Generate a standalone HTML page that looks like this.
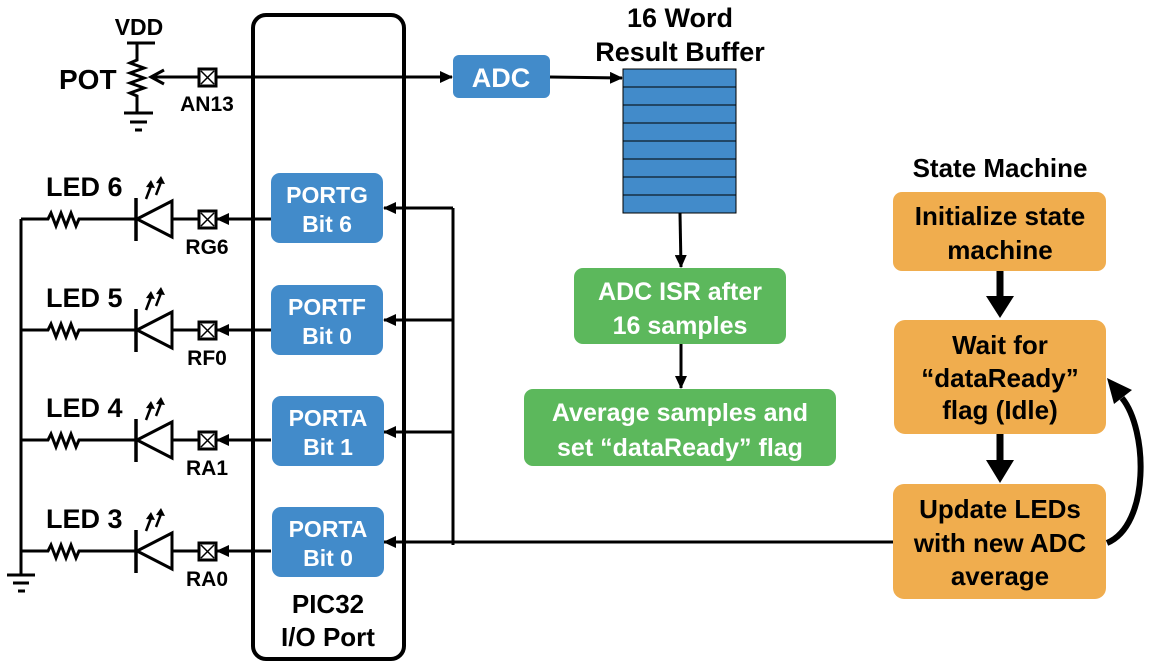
<!DOCTYPE html>
<html><head><style>
body{margin:0;background:#fff;width:1150px;height:665px;overflow:hidden}
text{font-family:"Liberation Sans",Arial,Helvetica,sans-serif;font-weight:bold}
</style></head><body>
<svg width="1150" height="665" viewBox="0 0 1150 665" xmlns="http://www.w3.org/2000/svg">
<defs>
<marker id="a" markerWidth="13" markerHeight="12" refX="12" refY="6" orient="auto" markerUnits="userSpaceOnUse"><path d="M0,0 L13,6 L0,12 z" fill="#000"/></marker>
</defs>
<!-- PIC32 box -->
<rect x="253" y="15" width="151" height="644" rx="13" fill="none" stroke="#000" stroke-width="4"/>
<text x="328" y="613" font-size="26" text-anchor="middle">PIC32</text>
<text x="328" y="646" font-size="26" text-anchor="middle">I/O Port</text>

<!-- POT -->
<text x="139" y="35" font-size="23" text-anchor="middle">VDD</text>
<line x1="127" y1="43" x2="155" y2="43" stroke="#000" stroke-width="3"/>
<polyline points="137,43 137,60 130,63 144,68 130,73 144,78 130,83 144,88 130,93 137,96 137,113" fill="none" stroke="#000" stroke-width="3"/>
<line x1="124" y1="113" x2="153" y2="113" stroke="#000" stroke-width="3"/>
<line x1="130" y1="122" x2="147" y2="122" stroke="#000" stroke-width="3"/>
<line x1="135" y1="130" x2="142" y2="130" stroke="#000" stroke-width="3"/>
<polyline points="164,70 151,77 164,84" fill="none" stroke="#000" stroke-width="3"/>
<text x="59" y="89" font-size="28">POT</text>
<line x1="152" y1="77" x2="452" y2="77" stroke="#000" stroke-width="3" marker-end="url(#a)"/>
<rect x="199" y="69" width="17" height="17" fill="#fff" stroke="#000" stroke-width="3"/>
<path d="M201,71 L214,84 M214,71 L201,84" stroke="#000" stroke-width="1.5"/>
<text x="207" y="111" font-size="21" text-anchor="middle">AN13</text>

<!-- ADC -->
<rect x="453" y="55" width="97" height="43" rx="6" fill="#428BCA"/>
<text x="501" y="87" font-size="27" fill="#fff" text-anchor="middle">ADC</text>
<line x1="550" y1="77" x2="622" y2="78" stroke="#000" stroke-width="3" marker-end="url(#a)"/>

<!-- buffer -->
<text x="680" y="27" font-size="27" text-anchor="middle">16 Word</text>
<text x="680" y="61" font-size="27" text-anchor="middle">Result Buffer</text>
<rect x="623" y="69" width="113" height="144" fill="#428BCA" stroke="#000" stroke-width="1"/>
<g stroke="#000" stroke-width="1">
<line x1="623" y1="87" x2="736" y2="87"/><line x1="623" y1="105" x2="736" y2="105"/>
<line x1="623" y1="123" x2="736" y2="123"/><line x1="623" y1="141" x2="736" y2="141"/>
<line x1="623" y1="159" x2="736" y2="159"/><line x1="623" y1="177" x2="736" y2="177"/>
<line x1="623" y1="195" x2="736" y2="195"/></g>
<line x1="680" y1="213" x2="681" y2="267" stroke="#000" stroke-width="3" marker-end="url(#a)"/>
<rect x="574" y="268" width="212" height="76" rx="9" fill="#5CB85C"/>
<text x="680" y="300" font-size="25" fill="#fff" text-anchor="middle">ADC ISR after</text>
<text x="680" y="334" font-size="25" fill="#fff" text-anchor="middle">16 samples</text>
<line x1="681" y1="344" x2="681" y2="388" stroke="#000" stroke-width="3" marker-end="url(#a)"/>
<rect x="524" y="389" width="312" height="77" rx="9" fill="#5CB85C"/>
<text x="680" y="421" font-size="25" fill="#fff" text-anchor="middle">Average samples and</text>
<text x="680" y="456" font-size="25" fill="#fff" text-anchor="middle">set “dataReady” flag</text>

<!-- bus -->
<polyline points="453,208 453,545" fill="none" stroke="#000" stroke-width="3"/>
<line x1="453" y1="208" x2="384" y2="208" stroke="#000" stroke-width="3" marker-end="url(#a)"/>
<line x1="453" y1="320" x2="384" y2="320" stroke="#000" stroke-width="3" marker-end="url(#a)"/>
<line x1="453" y1="432" x2="384" y2="432" stroke="#000" stroke-width="3" marker-end="url(#a)"/>
<line x1="893" y1="542" x2="384" y2="542" stroke="#000" stroke-width="3" marker-end="url(#a)"/>

<!-- left rail -->
<line x1="21" y1="219" x2="21" y2="575" stroke="#000" stroke-width="3"/>
<line x1="7" y1="575" x2="35" y2="575" stroke="#000" stroke-width="3"/>
<line x1="13" y1="583" x2="29" y2="583" stroke="#000" stroke-width="3"/>
<line x1="18" y1="591" x2="25" y2="591" stroke="#000" stroke-width="3"/>

<g>
<g transform="translate(0,0)">
<polyline points="21,219 48,219 51,213 56,226 61,213 66,226 71,213 76,226 79,219 136,219" fill="none" stroke="#000" stroke-width="3"/>
<line x1="136" y1="198" x2="136" y2="241" stroke="#000" stroke-width="3.5"/>
<polygon points="137,219 172,201 172,237" fill="none" stroke="#000" stroke-width="3"/>
<line x1="172" y1="219" x2="199" y2="219" stroke="#000" stroke-width="3"/>
<path d="M146,199 L151,186 M156,195 L161,182" stroke="#000" stroke-width="2.5"/>
<path d="M146,187 L151,180 L155,188 z M156,183 L161,176 L165,184 z" fill="#000"/>
<line x1="271" y1="219" x2="217" y2="219" stroke="#000" stroke-width="3" marker-end="url(#a)"/>
<rect x="199" y="211" width="17" height="17" fill="#fff" stroke="#000" stroke-width="3"/>
<path d="M201,213 L214,226 M214,213 L201,226" stroke="#000" stroke-width="1.5"/>
<text x="46" y="196" font-size="27">LED 6</text>
<text x="207" y="254" font-size="21" text-anchor="middle">RG6</text>
<rect x="271" y="173" width="112" height="70" rx="9" fill="#428BCA"/>
<text x="327" y="203" font-size="23" fill="#fff" text-anchor="middle">PORTG</text>
<text x="327" y="232" font-size="23" fill="#fff" text-anchor="middle">Bit 6</text>
</g>
<g transform="translate(0,111)">
<polyline points="21,219 48,219 51,213 56,226 61,213 66,226 71,213 76,226 79,219 136,219" fill="none" stroke="#000" stroke-width="3"/>
<line x1="136" y1="198" x2="136" y2="241" stroke="#000" stroke-width="3.5"/>
<polygon points="137,219 172,201 172,237" fill="none" stroke="#000" stroke-width="3"/>
<line x1="172" y1="219" x2="199" y2="219" stroke="#000" stroke-width="3"/>
<path d="M146,199 L151,186 M156,195 L161,182" stroke="#000" stroke-width="2.5"/>
<path d="M146,187 L151,180 L155,188 z M156,183 L161,176 L165,184 z" fill="#000"/>
<line x1="271" y1="219" x2="217" y2="219" stroke="#000" stroke-width="3" marker-end="url(#a)"/>
<rect x="199" y="211" width="17" height="17" fill="#fff" stroke="#000" stroke-width="3"/>
<path d="M201,213 L214,226 M214,213 L201,226" stroke="#000" stroke-width="1.5"/>
<text x="46" y="196" font-size="27">LED 5</text>
<text x="207" y="254" font-size="21" text-anchor="middle">RF0</text>
<rect x="271" y="174" width="112" height="70" rx="9" fill="#428BCA"/>
<text x="327" y="204" font-size="23" fill="#fff" text-anchor="middle">PORTF</text>
<text x="327" y="233" font-size="23" fill="#fff" text-anchor="middle">Bit 0</text>
</g>
<g transform="translate(0,221)">
<polyline points="21,219 48,219 51,213 56,226 61,213 66,226 71,213 76,226 79,219 136,219" fill="none" stroke="#000" stroke-width="3"/>
<line x1="136" y1="198" x2="136" y2="241" stroke="#000" stroke-width="3.5"/>
<polygon points="137,219 172,201 172,237" fill="none" stroke="#000" stroke-width="3"/>
<line x1="172" y1="219" x2="199" y2="219" stroke="#000" stroke-width="3"/>
<path d="M146,199 L151,186 M156,195 L161,182" stroke="#000" stroke-width="2.5"/>
<path d="M146,187 L151,180 L155,188 z M156,183 L161,176 L165,184 z" fill="#000"/>
<line x1="271" y1="219" x2="217" y2="219" stroke="#000" stroke-width="3" marker-end="url(#a)"/>
<rect x="199" y="211" width="17" height="17" fill="#fff" stroke="#000" stroke-width="3"/>
<path d="M201,213 L214,226 M214,213 L201,226" stroke="#000" stroke-width="1.5"/>
<text x="46" y="196" font-size="27">LED 4</text>
<text x="207" y="254" font-size="21" text-anchor="middle">RA1</text>
<rect x="272" y="175" width="112" height="70" rx="9" fill="#428BCA"/>
<text x="328" y="205" font-size="23" fill="#fff" text-anchor="middle">PORTA</text>
<text x="328" y="234" font-size="23" fill="#fff" text-anchor="middle">Bit 1</text>
</g>
<g transform="translate(0,332)">
<polyline points="21,219 48,219 51,213 56,226 61,213 66,226 71,213 76,226 79,219 136,219" fill="none" stroke="#000" stroke-width="3"/>
<line x1="136" y1="198" x2="136" y2="241" stroke="#000" stroke-width="3.5"/>
<polygon points="137,219 172,201 172,237" fill="none" stroke="#000" stroke-width="3"/>
<line x1="172" y1="219" x2="199" y2="219" stroke="#000" stroke-width="3"/>
<path d="M146,199 L151,186 M156,195 L161,182" stroke="#000" stroke-width="2.5"/>
<path d="M146,187 L151,180 L155,188 z M156,183 L161,176 L165,184 z" fill="#000"/>
<line x1="271" y1="219" x2="217" y2="219" stroke="#000" stroke-width="3" marker-end="url(#a)"/>
<rect x="199" y="211" width="17" height="17" fill="#fff" stroke="#000" stroke-width="3"/>
<path d="M201,213 L214,226 M214,213 L201,226" stroke="#000" stroke-width="1.5"/>
<text x="46" y="196" font-size="27">LED 3</text>
<text x="207" y="254" font-size="21" text-anchor="middle">RA0</text>
<rect x="272" y="175" width="112" height="70" rx="9" fill="#428BCA"/>
<text x="328" y="205" font-size="23" fill="#fff" text-anchor="middle">PORTA</text>
<text x="328" y="234" font-size="23" fill="#fff" text-anchor="middle">Bit 0</text>
</g>
</g>

<!-- State machine -->
<text x="1000" y="177" font-size="26" text-anchor="middle">State Machine</text>
<rect x="893" y="192" width="213" height="79" rx="9" fill="#F0AD4E"/>
<text x="1000" y="225" font-size="26" text-anchor="middle">Initialize state</text>
<text x="1000" y="259" font-size="26" text-anchor="middle">machine</text>
<line x1="1000" y1="271" x2="1000" y2="300" stroke="#000" stroke-width="7"/>
<polygon points="986,296 1014,296 1000,318" fill="#000"/>
<rect x="894" y="320" width="212" height="114" rx="11" fill="#F0AD4E"/>
<text x="1000" y="354" font-size="26" text-anchor="middle">Wait for</text>
<text x="1000" y="387" font-size="26" text-anchor="middle">“dataReady”</text>
<text x="1000" y="419" font-size="26" text-anchor="middle">flag (Idle)</text>
<line x1="1000" y1="434" x2="1000" y2="464" stroke="#000" stroke-width="7"/>
<polygon points="986,460 1014,460 1000,483" fill="#000"/>
<rect x="893" y="484" width="213" height="115" rx="11" fill="#F0AD4E"/>
<text x="1000" y="518" font-size="26" text-anchor="middle">Update LEDs</text>
<text x="1000" y="552" font-size="26" text-anchor="middle">with new ADC</text>
<text x="1000" y="585" font-size="26" text-anchor="middle">average</text>
<path d="M1107,543 C1150,525 1148,430 1122,398" fill="none" stroke="#000" stroke-width="6"/>
<polygon points="1107,378 1132,390 1114,404" fill="#000"/>
</svg>
</body></html>
